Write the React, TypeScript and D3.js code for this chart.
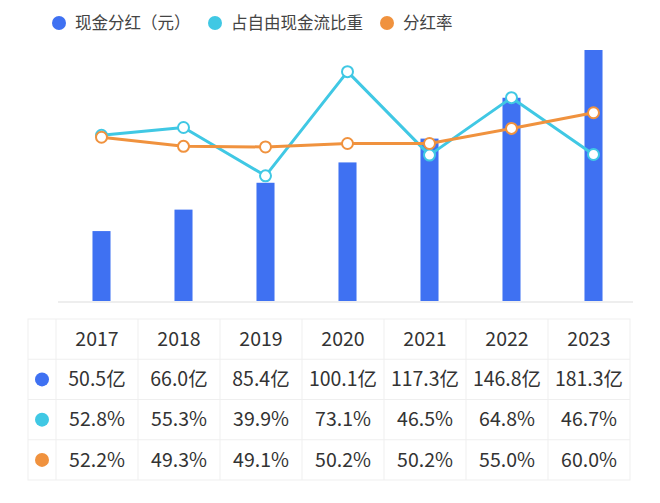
import React from 'react';
import * as d3 from 'd3';

const years = ['2017', '2018', '2019', '2020', '2021', '2022', '2023'];
const dividends = [50.5, 66.0, 85.4, 100.1, 117.3, 146.8, 181.3];
const fcfShare = [52.8, 55.3, 39.9, 73.1, 46.5, 64.8, 46.7];
const payoutRatio = [52.2, 49.3, 49.1, 50.2, 50.2, 55.0, 60.0];
const seriesNames = ['现金分红（元）', '占自由现金流比重', '分红率'];

const BLUE = '#3f71f2';
const CYAN = '#40c8e4';
const ORANGE = '#f0923e';
const FONT = '"Noto Sans CJK SC", "Noto Sans", sans-serif';

const width = 660;
const height = 503;
const baseY = 301;
const topY = 50;

export default function App() {
  // plot scales
  const x = d3.scaleBand()
    .domain(years)
    .range([60.5, 634.5])
    .paddingInner(0.78)
    .paddingOuter(0.39);
  const yBar = d3.scaleLinear()
    .domain([0, d3.max(dividends)])
    .range([baseY, topY]);
  const yPct = d3.scaleLinear()
    .domain([0, 80])
    .range([baseY, topY]);

  const cx = (i) => x(years[i]) + x.bandwidth() / 2;
  const line = (vals) => d3.line()
    .x((d, i) => cx(i))
    .y((d) => yPct(d))(vals);

  // table scales
  const col = d3.scaleBand().domain(years).range([56, 630]);
  const rowY = d3.scaleBand().domain(['head', '0', '1', '2']).range([319, 480]);
  const rows = [
    { color: BLUE, labels: dividends.map((v) => `${v.toFixed(1)}亿`) },
    { color: CYAN, labels: fcfShare.map((v) => `${v.toFixed(1)}%`) },
    { color: ORANGE, labels: payoutRatio.map((v) => `${v.toFixed(1)}%`) },
  ];
  const midY = (k) => rowY(k) + rowY.bandwidth() / 2;

  const legend = [
    { name: seriesNames[0], color: BLUE, x: 59 },
    { name: seriesNames[1], color: CYAN, x: 215 },
    { name: seriesNames[2], color: ORANGE, x: 387 },
  ];

  const gridColor = '#efefef';

  return (
    <div style={{ position: 'absolute', left: 0, top: 0 }}>
      <svg width={width} height={height} style={{ display: 'block', background: '#fff' }} fontFamily={FONT}>
        {/* legend */}
        {legend.map((l) => (
          <g key={l.name}>
            <circle cx={l.x} cy={23} r={7} fill={l.color} />
            <text x={l.x + 16} y={23} dy="0.35em" fontSize={16.5} fill="#444">{l.name}</text>
          </g>
        ))}

        {/* baseline */}
        <line x1={58} x2={633} y1={baseY + 1} y2={baseY + 1} stroke="#e8e8e8" strokeWidth={1.5} />

        {/* bars */}
        {dividends.map((v, i) => (
          <rect key={years[i]} x={x(years[i])} y={yBar(v)} width={x.bandwidth()}
            height={baseY - yBar(v)} fill={BLUE} />
        ))}

        {/* lines */}
        {[{ vals: fcfShare, color: CYAN }, { vals: payoutRatio, color: ORANGE }].map((s) => (
          <g key={s.color}>
            <path d={line(s.vals)} fill="none" stroke={s.color} strokeWidth={3} strokeLinejoin="round" />
            {s.vals.map((v, i) => (
              <circle key={i} cx={cx(i)} cy={yPct(v)} r={5.5} fill="#fff" stroke={s.color} strokeWidth={2} />
            ))}
          </g>
        ))}

        {/* table */}
        <g stroke={gridColor} strokeWidth={1} fill="none">
          <rect x={28} y={319} width={602} height={161} />
          {rowY.domain().slice(1).map((k) => (
            <line key={k} x1={28} x2={630} y1={rowY(k)} y2={rowY(k)} />
          ))}
          <line x1={56} x2={56} y1={319} y2={480} />
          {years.slice(1).map((yr) => (
            <line key={yr} x1={col(yr)} x2={col(yr)} y1={319} y2={480} />
          ))}
        </g>
        {years.map((yr) => (
          <text key={yr} x={col(yr) + col.bandwidth() / 2} y={midY('head')} dy="0.35em"
            textAnchor="middle" fontSize={19.5} fill="#333">{yr}</text>
        ))}
        {rows.map((r, ri) => (
          <g key={ri}>
            <circle cx={42} cy={midY(String(ri))} r={7} fill={r.color} />
            {r.labels.map((t, i) => (
              <text key={i} x={col(years[i]) + col.bandwidth() / 2} y={midY(String(ri))} dy="0.35em"
                textAnchor="middle" fontSize={19.5} fill="#333">{t}</text>
            ))}
          </g>
        ))}
      </svg>
    </div>
  );
}
